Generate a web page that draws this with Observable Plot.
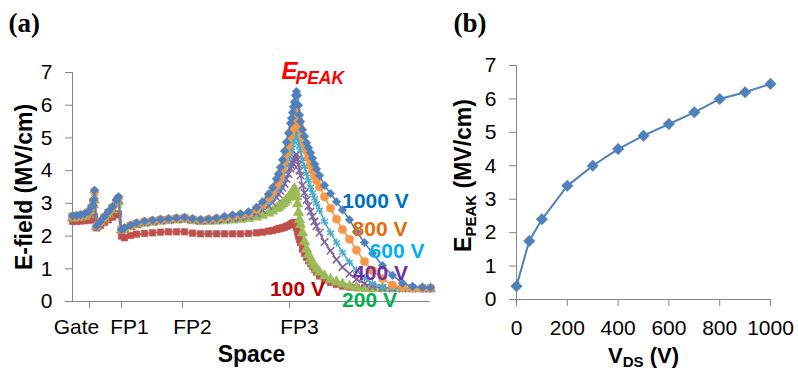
<!DOCTYPE html>
<html><head><meta charset="utf-8">
<script src="https://cdn.jsdelivr.net/npm/d3@7"></script>
<script src="https://cdn.jsdelivr.net/npm/@observablehq/plot@0.6"></script>
<style>
html,body{margin:0;padding:0;background:#fff;}
#fig{position:relative;width:798px;height:371px;overflow:hidden;background:#fff;}
#pa{position:absolute;left:0;top:0;}
#pb{position:absolute;left:450px;top:0;}
svg{overflow:visible;}
</style></head>
<body><div id="fig"><div id="pa"></div><div id="pb"></div></div>
<script>
// ---------- Panel (a) data ----------
const space = [0,4,8,12,16,19,21,22,24,28,32,36,40,44,46,49,52,58,64,72,80,88,96,104,112,120,128,136,144,152,160,168,176,184,190,196,200,
  204,206,208,210,212,214,216,218,219,220,221,222,223,224,225,226,227,228,230,232,234,236,238,240,242,244,247,
  252,258,264,270,277,284,292,300,310,320,330,340,350,358];
const v1000 = [2.62,2.63,2.65,2.68,2.75,2.9,3.1,3.4, 2.3,2.45,2.6,2.75,2.9,3.1,3.2,2.2, 2.25,2.33,2.4,2.45,2.48,2.51,2.53,2.55,2.57, 2.53,2.5,2.52,2.55,2.6,2.64,2.68,2.74, 2.88,3.05,3.28,3.48,
  3.75,3.9,4.1,4.33,4.6,4.87,5.15,5.45,5.6,5.78,5.95,6.1,6.3,6.42,6.3,6.0,5.7,5.5,5.25,5.05,4.85,4.7,4.55,4.38,4.2,4.05,3.85,
  3.55,3.3,3.05,2.8, 2.5,2.13,1.8,1.47,1.1,0.8,0.56,0.46,0.43,0.42];
const v800 = [2.6,2.61,2.63,2.66,2.73,2.88,3.08,3.35, 2.3,2.44,2.58,2.73,2.88,3.08,3.17,2.2, 2.24,2.32,2.39,2.44,2.47,2.5,2.52,2.54,2.56, 2.52,2.49,2.51,2.53,2.57,2.61,2.65,2.7, 2.82,2.97,3.17,3.33,
  3.55,3.7,3.85,4.07,4.3,4.55,4.8,5.07,5.2,5.34,5.47,5.6,5.75,5.85,5.7,5.55,5.4,5.28,5.05,4.82,4.6,4.4,4.2,4.02,3.85,3.7,3.5,
  3.2,2.85,2.52,2.2, 1.9,1.57,1.22,0.95,0.7,0.5,0.43,0.41,0.4,0.4];
const v600 = [2.6,2.61,2.63,2.66,2.72,2.87,3.06,3.3, 2.3,2.44,2.58,2.72,2.87,3.06,3.15,2.2, 2.24,2.32,2.38,2.43,2.46,2.49,2.51,2.53,2.55, 2.51,2.48,2.5,2.52,2.55,2.58,2.62,2.66, 2.76,2.9,3.05,3.18,
  3.38,3.5,3.62,3.78,3.95,4.15,4.35,4.58,4.7,4.8,4.9,5.0,5.1,5.2,5.05,4.9,4.75,4.62,4.35,4.12,3.9,3.7,3.5,3.32,3.15,3.0,2.8,
  2.45,2.1,1.8,1.5, 1.2,0.95,0.72,0.55,0.44,0.41,0.4,0.4,0.4,0.4];
const v400 = [2.59,2.6,2.62,2.65,2.71,2.85,3.03,3.25, 2.3,2.43,2.57,2.71,2.85,3.03,3.12,2.2, 2.23,2.31,2.37,2.42,2.45,2.48,2.5,2.52,2.54, 2.5,2.47,2.49,2.5,2.52,2.55,2.58,2.62, 2.7,2.8,2.92,3.02,
  3.18,3.28,3.38,3.48,3.6,3.75,3.9,4.07,4.15,4.23,4.32,4.4,4.46,4.5,4.35,4.18,4.0,3.85,3.55,3.32,3.1,2.92,2.75,2.6,2.45,2.3,2.1,
  1.82,1.55,1.28,1.05, 0.85,0.68,0.55,0.46,0.42,0.4,0.4,0.4,0.4,0.4];
const v200 = [2.55,2.56,2.58,2.6,2.66,2.78,2.95,3.1, 2.28,2.4,2.53,2.66,2.8,2.97,3.05,2.18, 2.2,2.28,2.34,2.39,2.42,2.45,2.47,2.49,2.5, 2.47,2.45,2.45,2.46,2.47,2.49,2.51,2.54, 2.58,2.63,2.7,2.76,
  2.84,2.88,2.93,2.98,3.04,3.1,3.18,3.26,3.3,3.35,3.4,3.45,3.35,3.2,2.98,2.72,2.5,2.35,2.1,1.83,1.6,1.44,1.3,1.2,1.1,1.0,0.9,
  0.78,0.67,0.6,0.53, 0.47,0.43,0.41,0.4,0.4,0.4,0.4,0.4,0.4,0.4];
const v100 = [2.45,2.45,2.46,2.47,2.48,2.5,2.55,2.6, 2.25,2.33,2.42,2.5,2.58,2.65,2.68,2.0, 1.95,2.02,2.06,2.08,2.1,2.12,2.13,2.13,2.13, 2.09,2.07,2.07,2.07,2.07,2.07,2.07,2.08, 2.1,2.12,2.15,2.17,
  2.2,2.22,2.24,2.25,2.27,2.3,2.32,2.35,2.37,2.39,2.4,2.42,2.35,2.25,2.12,2.0,1.9,1.8,1.6,1.47,1.35,1.25,1.16,1.07,0.98,0.9,0.78,
  0.66,0.58,0.52,0.47, 0.44,0.42,0.41,0.4,0.4,0.4,0.4,0.4,0.4,0.4];

const spaceTicks = [17, 49, 110, 217];
const spaceTickLabels = ["Gate", "FP1", "FP2", "FP3"];
const spaceLabelPos = [4, 57, 120, 227];
const yTicks = [0,1,2,3,4,5,6,7];

const curveLabels = ["1000 V", "800 V", "600 V", "400 V", "200 V", "100 V"];
const curveLabelColors = ["#0070C0", "#E46C0A", "#00B0F0", "#7030A0", "#00B050", "#C00000"];
const curveLabelX = [303, 307.5, 324.5, 308, 297, 225];
const curveLabelY = [3.07, 2.22, 1.54, 0.87, 0.05, 0.36];

// ---------- Panel (b) data ----------
const vds = [0,50,100,200,300,400,500,600,700,800,900,1000];
const epeak = [0.4,1.75,2.4,3.4,4.0,4.5,4.9,5.25,5.6,6.0,6.2,6.45];
const vdsTicks = [0,200,400,600,800,1000];

const gray = "#868686";
const font = "'Liberation Sans', Arial, sans-serif";
const serif = "'Liberation Serif', 'Times New Roman', serif";

const seriesA = [
  {values: v100,  color: "#C0504D", symbol: "square",   filled: true,  r: 3.7},
  {values: v200,  color: "#9BBB59", symbol: "triangle", filled: true,  r: 4.0},
  {values: v400,  color: "#8064A2", symbol: "times",    filled: false, r: 3.5},
  {values: v600,  color: "#4BACC6", symbol: "asterisk", filled: false, r: 3.8},
  {values: v800,  color: "#F79646", symbol: "circle",   filled: true,  r: 4.1},
  {values: v1000, color: "#4F81BD", symbol: "diamond2", filled: true,  r: 3.9}
];

const seriesMarks = [];
for (const s of seriesA) {
  const pts = space.map((x, i) => ({x, y: s.values[i]}));
  seriesMarks.push(Plot.line(pts, {x: "x", y: "y", stroke: s.color, strokeWidth: 1.6}));
  seriesMarks.push(Plot.dot(pts, s.filled
    ? {x: "x", y: "y", symbol: s.symbol, fill: s.color, stroke: s.color, strokeWidth: 0.5, r: s.r}
    : {x: "x", y: "y", symbol: s.symbol, stroke: s.color, strokeWidth: 1.5, r: s.r}));
}
const labelMarks = curveLabels.map((t, i) => Plot.text([t], {
  x: () => curveLabelX[i], y: () => curveLabelY[i], text: d => d,
  fill: curveLabelColors[i], fontSize: 21, fontWeight: "bold", lineAnchor: "middle"
}));

const pa = Plot.plot({
  width: 450, height: 371,
  marginLeft: 72, marginRight: 20, marginTop: 72, marginBottom: 70,
  x: {domain: [0, 358]},
  y: {domain: [0, 7]},
  style: {fontFamily: font, fontSize: "21px", color: "black", background: "white", overflow: "visible"},
  marks: [
    Plot.ruleY([0], {stroke: gray}),
    Plot.ruleX([0], {stroke: gray}),
    Plot.axisY({ticks: yTicks, tickSize: 7, tickPadding: 13, fontSize: 21, stroke: gray, fill: "black", label: null, tickFormat: d3.format("d")}),
    Plot.axisX({ticks: spaceTicks, tickSize: 7, tickFormat: () => "", stroke: gray, label: null}),
    Plot.text(spaceTickLabels, {x: (d, i) => spaceLabelPos[i], text: d => d, frameAnchor: "bottom", lineAnchor: "middle", dy: 25.3, fontSize: 21, fill: "black"}),
    ...seriesMarks,
    ...labelMarks,
    Plot.text(["E"], {x: () => 209, y: () => 7.05, text: d => d, textAnchor: "start", lineAnchor: "middle", fontSize: 24, fontWeight: "bold", fontStyle: "italic", fill: "#FF0000"}),
    Plot.text(["PEAK"], {x: () => 223, y: () => 6.83, text: d => d, textAnchor: "start", lineAnchor: "middle", fontSize: 17.5, fontWeight: "bold", fontStyle: "italic", fill: "#FF0000"}),
    Plot.text(["E-field (MV/cm)"], {text: d => d, frameAnchor: "left", textAnchor: "middle", lineAnchor: "middle", dx: -48, rotate: -90, fontSize: 23, fontWeight: "bold", fill: "black"}),
    Plot.text(["Space"], {text: d => d, frameAnchor: "bottom", textAnchor: "middle", lineAnchor: "middle", dy: 53.6, fontSize: 23, fontWeight: "bold", fill: "black"}),
    Plot.text(["(a)"], {text: d => d, frameAnchor: "top-left", textAnchor: "start", lineAnchor: "middle", dx: -64, dy: -49.6, fontSize: 27, fontWeight: "bold", fontFamily: serif, fill: "black"})
  ]
});
document.getElementById("pa").appendChild(pa);

const ptsB = vds.map((x, i) => ({x, y: epeak[i]}));
const pb = Plot.plot({
  width: 348, height: 371,
  marginLeft: 66, marginRight: 28, marginTop: 65, marginBottom: 72,
  x: {domain: [0, 1000]},
  y: {domain: [0, 7]},
  style: {fontFamily: font, fontSize: "21px", color: "black", background: "white", overflow: "visible"},
  marks: [
    Plot.ruleY([0], {stroke: gray}),
    Plot.ruleX([0], {stroke: gray}),
    Plot.axisY({ticks: yTicks, tickSize: 7, tickPadding: 13, fontSize: 21, stroke: gray, fill: "black", label: null, tickFormat: d3.format("d")}),
    Plot.axisX({ticks: vdsTicks, tickSize: 7, tickPadding: 14, fontSize: 21, stroke: gray, fill: "black", label: null, tickFormat: d3.format("d")}),
    Plot.line(ptsB, {x: "x", y: "y", stroke: "#4F81BD", strokeWidth: 2}),
    Plot.dot(ptsB, {x: "x", y: "y", symbol: "diamond2", fill: "#4F81BD", stroke: "#4F81BD", strokeWidth: 0.5, r: 5.2}),
    Plot.text(["EPEAK (MV/cm)"], {text: d => d, frameAnchor: "left", textAnchor: "middle", lineAnchor: "middle", dx: -53, dy: -7, rotate: -90, fontSize: 23, fontWeight: "bold", fill: "black"}),
    Plot.text(["VDS (V)"], {text: d => d, frameAnchor: "bottom", textAnchor: "middle", lineAnchor: "middle", dy: 56, fontSize: 22, fontWeight: "bold", fill: "black"}),
    Plot.text(["(b)"], {text: d => d, frameAnchor: "top-left", textAnchor: "start", lineAnchor: "middle", dx: -63, dy: -42.6, fontSize: 27, fontWeight: "bold", fontFamily: serif, fill: "black"})
  ]
});
document.getElementById("pb").appendChild(pb);

// subscripts as real text tspans
function subscript(svg, whole, main, sub, rest, subSize, shift) {
  d3.select(svg).selectAll("text").filter(function() { return this.textContent === whole; }).each(function() {
    const t = d3.select(this);
    t.text("");
    t.append("tspan").text(main);
    t.append("tspan").attr("font-size", subSize).attr("dy", shift).text(sub);
    t.append("tspan").attr("dy", -shift).text(rest);
  });
}
subscript(pb, "EPEAK (MV/cm)", "E", "PEAK", " (MV/cm)", 15, 5);
subscript(pb, "VDS (V)", "V", "DS", " (V)", 15, 4);
</script>
</body></html>
